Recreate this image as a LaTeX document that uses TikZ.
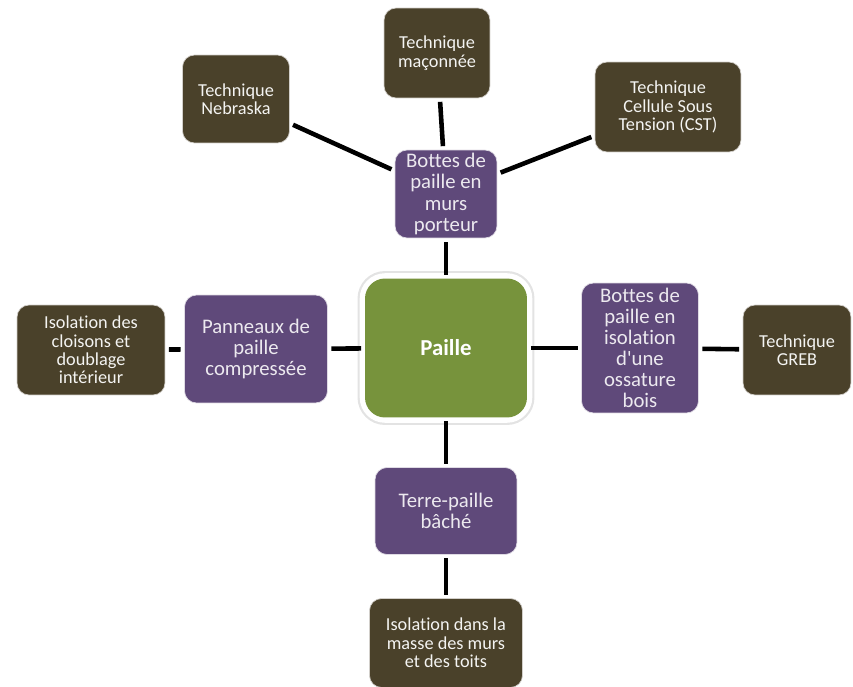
\documentclass[tikz,border=0pt]{standalone}
\usepackage{fontspec}
\setmainfont{Carlito}[Ligatures={NoCommon}]
\definecolor{vertpaille}{HTML}{77933C}
\definecolor{violetbranche}{HTML}{5F497A}
\definecolor{brunfeuille}{HTML}{4A412A}

\begin{document}
\begin{tikzpicture}[x=0.02cm,y=-0.02cm,
	hub/.style={rectangle, rounded corners=0.4cm, fill=vertpaille, text=white,
		font=\fontsize{13}{15}\selectfont\bfseries,
		preaction={draw=gray!22, line width=8.5pt},
		preaction={draw=white, line width=6pt}},
	branch/.style={rectangle, rounded corners=0.24cm, fill=violetbranche,
		draw=white!80!violetbranche, thin, text=white!88!violetbranche, align=center,
		inner sep=1pt, font=\fontsize{11.8}{12}\selectfont},
	leaf/.style={rectangle, rounded corners=0.24cm, fill=brunfeuille,
		draw=white!75!brunfeuille, thin, text=white!94!brunfeuille, align=center,
		inner sep=1pt, font=\fontsize{10.4}{10.5}\selectfont},
	lien/.style={line width=2.6pt, shorten <=2pt, shorten >=2pt}]
		\useasboundingbox (0,0) rectangle (853,687);
		% centre
		\node[hub, minimum width=3.24cm, minimum height=2.78cm] (paille) at (446,348) {Paille};
		% branches
		\node[branch, minimum width=2.04cm, minimum height=1.76cm] (porteur) at (446,194) {Bottes de\\paille en\\murs\\porteur};
		\node[branch, minimum width=2.86cm, minimum height=2.16cm] (panneaux) at (256,349) {Panneaux de\\paille\\compressée};
		\node[branch, minimum width=2.34cm, minimum height=2.6cm] (ossature) at (640,348) {Bottes de\\paille en\\isolation\\d\textquotesingle une\\ossature\\bois};
		\node[branch, minimum width=2.84cm, minimum height=1.74cm] (terre) at (446,511) {Terre-paille\\bâché};
		% feuilles
		\node[leaf, minimum width=2.12cm, minimum height=1.8cm] (maconnee) at (437,53) {Technique\\maçonnée};
		\node[leaf, minimum width=2.14cm, minimum height=1.76cm] (nebraska) at (236,99) {Technique\\Nebraska};
		\node[leaf, minimum width=2.92cm, minimum height=1.8cm] (cst) at (668,107) {Technique\\Cellule Sous\\Tension (CST)};
		\node[leaf, minimum width=2.96cm, minimum height=1.8cm] (cloisons) at (91,350) {Isolation des\\cloisons et\\doublage\\intérieur};
		\node[leaf, minimum width=2.16cm, minimum height=1.8cm] (greb) at (797,350) {Technique\\GREB};
		\node[leaf, minimum width=3.06cm, minimum height=1.78cm] (masse) at (446,643) {Isolation dans la\\masse des murs\\et des toits};
		% liens
		\draw[lien] (paille) -- (porteur);
		\draw[lien] (porteur) -- (maconnee);
		\draw[lien] (porteur) -- (nebraska);
		\draw[lien] (porteur) -- (cst);
		\draw[lien] (paille) -- (panneaux);
		\draw[lien] (panneaux) -- (cloisons);
		\draw[lien] (paille) -- (ossature);
		\draw[lien] (ossature) -- (greb);
		\draw[lien] (paille) -- (terre);
		\draw[lien] (terre) -- (masse);
	\end{tikzpicture}
\end{document}
